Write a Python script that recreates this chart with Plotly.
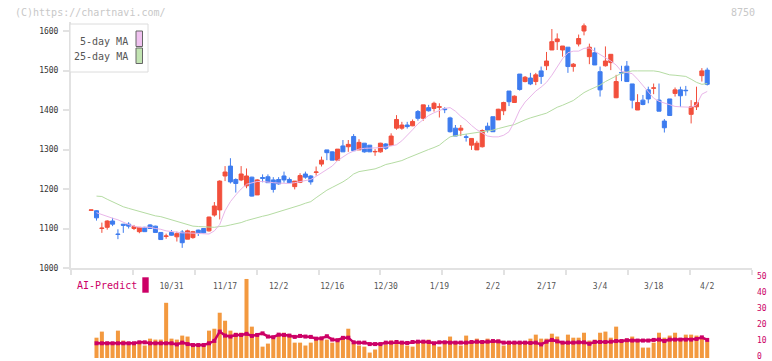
import plotly.graph_objects as go

# ---------------- data ----------------
day_index = list(range(0, 116))           # trading-day index, 0 = oldest candle
tick_pos = [15, 25, 35, 45, 55, 65, 75, 85, 95, 105, 115]
tick_labels = ["10/31", "11/17", "12/2", "12/16", "12/30", "1/19", "2/2",
               "2/17", "3/4", "3/18", "4/2"]

open_ = [1146, 1145, 1100, 1103, 1119, 1086, 1111, 1111, 1100, 1092, 1103, 1109, 1106, 1090, 1080, 1090,
         1079, 1091, 1073, 1077, 1096, 1100, 1094, 1134, 1147, 1233, 1258, 1224, 1223, 1208, 1230, 1185,
         1229, 1231, 1223, 1224, 1233, 1224, 1206, 1217, 1238, 1233, 1242, 1263, 1299, 1294, 1273, 1309,
         1307, 1333, 1299, 1316, 1311, 1294, 1294, 1314, 1311, 1354, 1354, 1362, 1360, 1396, 1379, 1406,
         1404, 1407, 1403, 1380, 1354, 1349, 1332, 1311, 1299, 1307, 1359, 1383, 1375, 1398, 1448, 1419,
         1491, 1472, 1481, 1472, 1499, 1512, 1552, 1573, 1552, 1559, 1510, 1567, 1600, 1535, 1545, 1497,
         1512, 1520, 1431, 1495, 1511, 1466, 1400, 1425, 1451, 1455, 1425, 1372, 1428, 1442, 1451, 1450,
         1389, 1408, 1487, 1501]
high = [1146, 1146, 1115, 1121, 1127, 1098, 1111, 1116, 1109, 1103, 1104, 1111, 1107, 1090, 1087, 1096,
        1092, 1096, 1097, 1094, 1097, 1100, 1130, 1167, 1222, 1258, 1278, 1227, 1258, 1252, 1231, 1225,
        1237, 1237, 1230, 1230, 1244, 1229, 1220, 1240, 1244, 1235, 1257, 1282, 1299, 1295, 1301, 1324,
        1324, 1339, 1326, 1316, 1311, 1301, 1317, 1316, 1341, 1387, 1370, 1370, 1376, 1400, 1413, 1413,
        1421, 1417, 1407, 1383, 1362, 1362, 1339, 1328, 1322, 1351, 1368, 1383, 1403, 1421, 1448, 1437,
        1491, 1486, 1494, 1494, 1510, 1547, 1605, 1594, 1562, 1559, 1519, 1591, 1619, 1568, 1558, 1510,
        1561, 1541, 1489, 1512, 1524, 1466, 1440, 1438, 1459, 1467, 1467, 1377, 1428, 1457, 1459, 1461,
        1425, 1459, 1506, 1507]
low = [1146, 1120, 1089, 1097, 1106, 1073, 1089, 1100, 1096, 1088, 1092, 1099, 1090, 1072, 1074, 1082,
       1067, 1051, 1073, 1074, 1081, 1088, 1092, 1130, 1123, 1220, 1214, 1191, 1220, 1202, 1181, 1185,
       1217, 1216, 1191, 1211, 1216, 1215, 1199, 1215, 1226, 1211, 1234, 1257, 1273, 1273, 1272, 1294,
       1294, 1297, 1299, 1292, 1294, 1284, 1292, 1299, 1310, 1350, 1350, 1353, 1359, 1373, 1373, 1396,
       1396, 1381, 1392, 1343, 1334, 1334, 1320, 1299, 1299, 1305, 1343, 1345, 1375, 1387, 1410, 1418,
       1449, 1470, 1463, 1463, 1466, 1501, 1552, 1552, 1535, 1494, 1497, 1561, 1589, 1516, 1514, 1434,
       1510, 1501, 1430, 1473, 1472, 1404, 1400, 1412, 1417, 1440, 1397, 1343, 1386, 1434, 1408, 1436,
       1366, 1400, 1472, 1462]
close = [1147, 1127, 1101, 1119, 1111, 1085, 1108, 1106, 1105, 1103, 1092, 1100, 1090, 1072, 1081, 1083,
         1087, 1064, 1094, 1092, 1089, 1089, 1129, 1157, 1220, 1243, 1218, 1214, 1238, 1233, 1182, 1223,
         1227, 1216, 1199, 1213, 1223, 1216, 1220, 1234, 1230, 1218, 1243, 1273, 1292, 1273, 1301, 1294,
         1313, 1297, 1318, 1294, 1294, 1295, 1316, 1303, 1334, 1376, 1362, 1358, 1371, 1379, 1413, 1398,
         1417, 1408, 1401, 1345, 1334, 1354, 1331, 1328, 1316, 1348, 1349, 1345, 1402, 1419, 1421, 1435,
         1452, 1483, 1466, 1489, 1485, 1524, 1573, 1580, 1562, 1510, 1516, 1581, 1613, 1559, 1514, 1451,
         1524, 1541, 1472, 1494, 1472, 1425, 1419, 1414, 1428, 1456, 1397, 1355, 1386, 1451, 1436, 1449,
         1408, 1419, 1499, 1465]

ma_index = list(range(1, 116))
ma5 = [1140, 1135, 1130, 1126, 1122, 1115, 1110, 1106, 1103, 1103, 1103, 1100, 1098, 1094, 1092, 1091,
       1089, 1089, 1088, 1088, 1087, 1086, 1094, 1110, 1145, 1168, 1185, 1200, 1212, 1216, 1219, 1219,
       1217, 1216, 1215, 1214, 1214, 1216, 1219, 1222, 1224, 1232, 1240, 1250, 1258, 1272, 1282, 1290,
       1296, 1301, 1303, 1303, 1304, 1305, 1306, 1309, 1312, 1322, 1335, 1350, 1365, 1376, 1386, 1393,
       1399, 1404, 1406, 1397, 1384, 1374, 1361, 1350, 1342, 1334, 1332, 1332, 1336, 1345, 1370, 1400,
       1420, 1435, 1448, 1458, 1470, 1488, 1510, 1530, 1545, 1549, 1549, 1556, 1557, 1549, 1540, 1532,
       1524, 1514, 1498, 1495, 1492, 1478, 1462, 1446, 1430, 1422, 1417, 1412, 1409, 1408, 1408, 1407,
       1413, 1440, 1447]
ma25 = [1182, 1181, 1174, 1168, 1160, 1155, 1151, 1147, 1143, 1139, 1135, 1132, 1130, 1126, 1122, 1118,
        1113, 1109, 1106, 1105, 1104, 1103, 1103, 1105, 1106, 1109, 1112, 1115, 1120, 1124, 1128, 1131,
        1134, 1138, 1143, 1147, 1151, 1155, 1159, 1164, 1168, 1178, 1188, 1197, 1204, 1210, 1218, 1227,
        1238, 1244, 1246, 1248, 1251, 1256, 1262, 1265, 1268, 1272, 1278, 1284, 1290, 1295, 1300, 1305,
        1311, 1322, 1332, 1335, 1337, 1340, 1342, 1344, 1346, 1348, 1349, 1353, 1357, 1360, 1363, 1370,
        1375, 1380, 1385, 1388, 1392, 1400, 1407, 1412, 1419, 1424, 1434, 1444, 1451, 1456, 1463, 1472,
        1479, 1487, 1493, 1496, 1499, 1499, 1499, 1499, 1499, 1497, 1492, 1489, 1488, 1487, 1485, 1478,
        1470, 1465, 1467]

volume = [12.7, 16.5, 10.2, 9.6, 17.1, 10.9, 9.6, 9.6, 9.6, 7.8, 12.1, 11.5, 11.5, 34.5, 12.1, 11.5,
          14.0, 13.4, 9.0, 8.4, 7.8, 17.1, 18.3, 28.3, 23.3, 17.1, 15.8, 15.8, 49.4, 19.6, 13.4, 7.1,
          9.0, 12.1, 14.6, 15.8, 14.6, 9.6, 9.6, 7.8, 9.6, 12.1, 12.1, 11.5, 9.6, 12.1, 12.7, 18.3,
          9.6, 7.8, 7.1, 3.4, 5.3, 7.8, 8.4, 10.9, 10.9, 9.6, 7.8, 7.1, 10.2, 10.2, 11.5, 8.4,
          7.1, 9.6, 13.4, 9.6, 7.8, 14.0, 9.6, 12.1, 9.6, 12.1, 9.6, 11.5, 7.8, 9.6, 9.6, 9.6,
          9.6, 12.1, 14.6, 12.1, 12.1, 15.2, 13.4, 9.6, 14.6, 12.7, 12.7, 15.8, 10.9, 11.5, 15.8, 16.5,
          12.7, 19.6, 10.2, 12.1, 13.4, 11.5, 6.5, 6.5, 9.6, 15.8, 12.7, 14.0, 15.8, 11.5, 14.6, 14.6,
          14.0, 12.7, 10.2]
ai_predict = [9.2, 9.2, 9.2, 9.2, 9.2, 9.2, 9.2, 9.2, 9.8, 9.8, 9.2, 9.2, 9.2, 9.2, 9.2, 8.5,
              9.6, 8.7, 8.1, 8.1, 8.1, 9.2, 10.7, 16.5, 14.0, 13.4, 14.4, 14.4, 15.1, 13.8, 14.4, 15.4,
              13.4, 13.0, 14.6, 14.4, 14.0, 13.2, 13.8, 13.4, 13.2, 12.1, 12.3, 13.6, 11.5, 11.1, 12.6, 12.7,
              9.8, 9.6, 9.6, 8.7, 8.7, 8.7, 9.6, 9.6, 10.0, 9.6, 9.4, 10.0, 10.2, 10.2, 10.0, 9.2,
              9.8, 9.8, 9.6, 9.6, 9.6, 9.6, 10.0, 10.2, 10.0, 10.2, 10.6, 10.4, 9.6, 9.6, 9.6, 9.6,
              9.6, 9.4, 9.6, 8.5, 10.2, 11.3, 10.4, 9.6, 9.6, 9.6, 9.8, 9.8, 8.9, 10.0, 10.0, 10.0,
              10.2, 10.6, 10.6, 11.1, 10.9, 10.9, 10.9, 10.9, 11.3, 11.5, 10.6, 11.5, 11.5, 11.5, 11.5, 11.5,
              11.9, 12.9, 11.3]

# ---------------- styling ----------------
W, H = 772, 361
RED, BLUE = "#f24f3c", "#3e7cef"
PINK, GREEN = "#e9b6e9", "#b5dca3"
ORANGE, CRIMSON = "#f3993f", "#cc0066"
AXIS = "#e2e2e2"
MONO = "DejaVu Sans Mono"


def px(x):
    return x / W


def py(y):
    return 1 - y / H


fig = go.Figure()

fig.add_trace(go.Candlestick(
    x=day_index, open=open_, high=high, low=low, close=close,
    increasing=dict(line=dict(color=RED, width=1), fillcolor=RED),
    decreasing=dict(line=dict(color=BLUE, width=1), fillcolor=BLUE),
    whiskerwidth=0, hoverinfo="skip", showlegend=False, xaxis="x", yaxis="y"))
fig.add_trace(go.Scatter(x=ma_index, y=ma25, mode="lines", line=dict(color=GREEN, width=1),
                         hoverinfo="skip", showlegend=False, xaxis="x", yaxis="y"))
fig.add_trace(go.Scatter(x=ma_index, y=ma5, mode="lines", line=dict(color=PINK, width=1),
                         hoverinfo="skip", showlegend=False, xaxis="x", yaxis="y"))

fig.add_trace(go.Bar(x=ma_index, y=volume, marker=dict(color=ORANGE, line=dict(width=0)), width=0.75,
                     hoverinfo="skip", showlegend=False, xaxis="x2", yaxis="y2"))
fig.add_trace(go.Scatter(x=ma_index, y=ai_predict, mode="lines+markers",
                         line=dict(color=CRIMSON, width=2.5),
                         marker=dict(symbol="square", size=4, color=CRIMSON),
                         hoverinfo="skip", showlegend=False, xaxis="x2", yaxis="y2"))

xdom = [px(71), px(752)]
xrange = [-3.76, 123.36]

fig.update_layout(
    width=W, height=H, autosize=False, margin=dict(l=0, r=0, t=0, b=0, pad=0, autoexpand=False),
    paper_bgcolor="white", plot_bgcolor="white",
    showlegend=False, boxgap=0.2, boxgroupgap=0.06,
    font=dict(family=MONO, size=8, color="#555"),
    xaxis=dict(domain=xdom, range=xrange, anchor="y", showgrid=False, zeroline=False, automargin=False,
               rangeslider=dict(visible=False),
               tickmode="array", tickvals=tick_pos, ticktext=tick_labels, ticks="",
               tickfont=dict(family=MONO, size=8, color="#555"), ticklabelstandoff=9,
               showline=True, linecolor=AXIS, linewidth=2,
               minor=dict(ticks="outside", tick0=-3.76, dtick=11.553, ticklen=5,
                          tickcolor=AXIS, tickwidth=2, showgrid=False)),
    yaxis=dict(domain=[py(268), py(22)], range=[1000, 1622.8], anchor="x", showgrid=False,
               zeroline=False, automargin=False,
               tickmode="array", tickvals=[1000, 1100, 1200, 1300, 1400, 1500, 1600],
               ticks="outside", ticklen=6, tickcolor=AXIS, tickwidth=2,
               showline=True, linecolor=AXIS, linewidth=2,
               tickfont=dict(family=MONO, size=8, color="#333"), ticklabelstandoff=3),
    xaxis2=dict(domain=xdom, range=xrange, anchor="y2", visible=False, matches="x", automargin=False),
    yaxis2=dict(domain=[py(358), py(278)], range=[0, 50], anchor="x2", side="right",
                showgrid=False, zeroline=False, showline=False, ticks="", automargin=False,
                tickmode="array", tickvals=[0, 10, 20, 30, 40, 50], ticklabeloverflow="allow",
                ticklabelshift=-2,
                tickfont=dict(family=MONO, size=8, color=CRIMSON), ticklabelstandoff=4),
)

shapes = [
    dict(type="rect", xref="paper", yref="paper", x0=px(70), x1=px(148), y0=py(72), y1=py(24),
         line=dict(color="#dcdcdc", width=1), fillcolor="white", layer="above"),
    dict(type="rect", xref="paper", yref="paper", x0=px(136), x1=px(142.5), y0=py(46.5), y1=py(31),
         line=dict(color="#666", width=1), fillcolor="#f0c2f0", layer="above"),
    dict(type="rect", xref="paper", yref="paper", x0=px(136), x1=px(142.5), y0=py(63.5), y1=py(48),
         line=dict(color="#666", width=1), fillcolor="#c2e4b2", layer="above"),
    dict(type="rect", xref="paper", yref="paper", x0=px(142.3), x1=px(148.7), y0=py(292.7), y1=py(277.3),
         line=dict(width=0), fillcolor=CRIMSON, layer="above"),
]
fig.update_layout(shapes=shapes)

ann = [
    dict(text="(C)https://chartnavi.com/", x=px(13), y=py(12.5), xanchor="left", yanchor="middle",
         font=dict(family=MONO, size=10, color="#c8c8c8")),
    dict(text="8750", x=px(757), y=py(12.5), xanchor="right", yanchor="middle",
         font=dict(family=MONO, size=10, color="#c8c8c8")),
    dict(text="5-day MA", x=px(130), y=py(41), xanchor="right", yanchor="middle",
         font=dict(family=MONO, size=10, color="#555")),
    dict(text="25-day MA", x=px(130), y=py(56.5), xanchor="right", yanchor="middle",
         font=dict(family=MONO, size=10, color="#555")),
    dict(text="AI-Predict", x=px(75), y=py(285.5), xanchor="left", yanchor="middle",
         font=dict(family=MONO, size=10, color=CRIMSON)),
]
for a in ann:
    a.update(xref="paper", yref="paper", showarrow=False)
fig.update_layout(annotations=ann)

fig.write_html("out.html", config={"displayModeBar": False, "responsive": False},
               post_script="document.body.style.margin='0';document.body.style.overflow='hidden';")
